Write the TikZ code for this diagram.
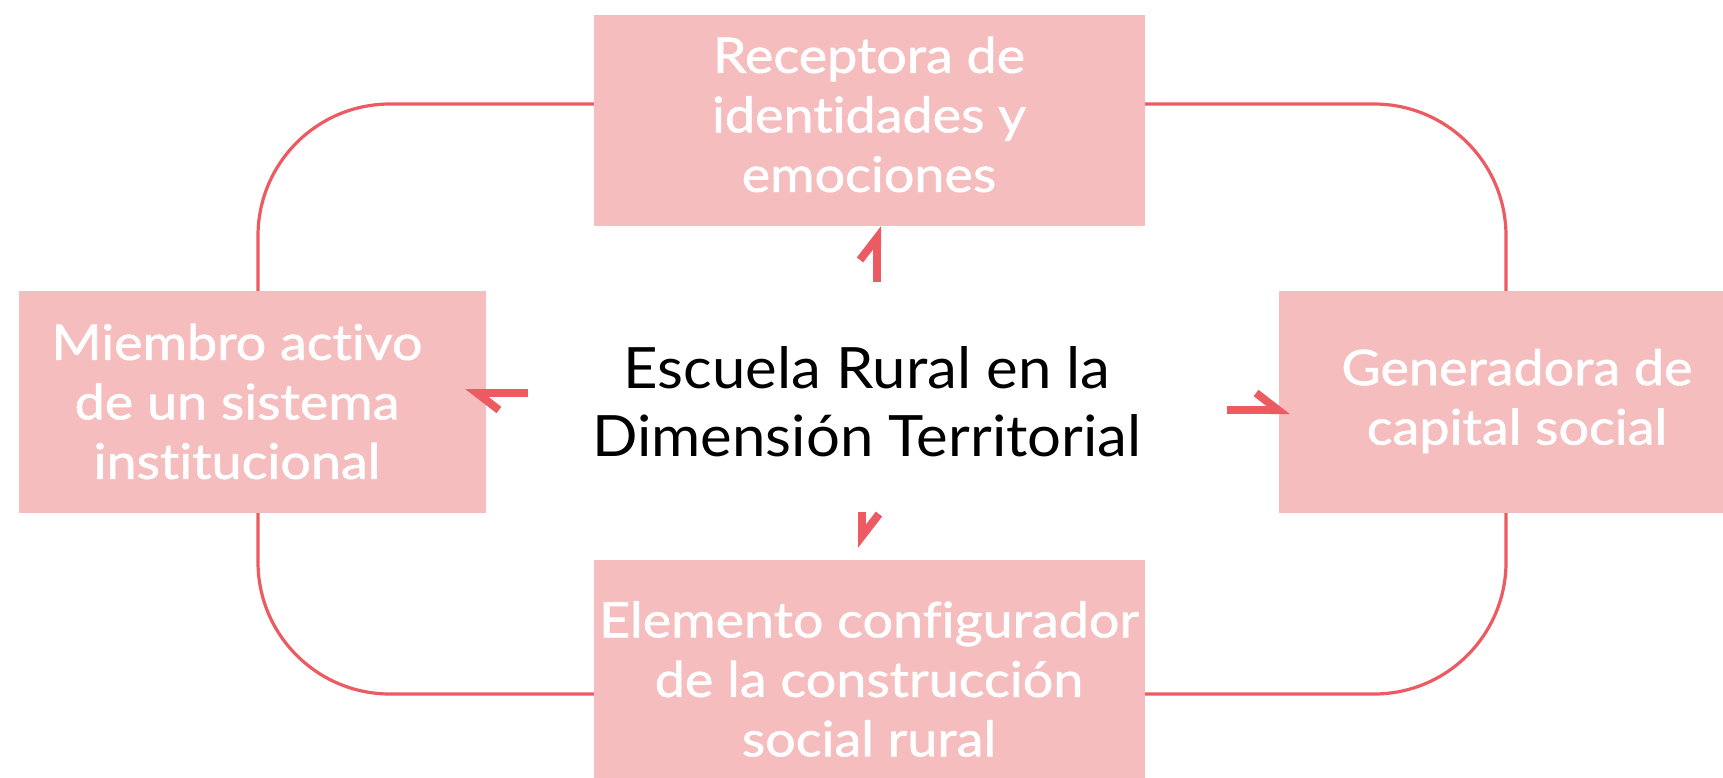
\documentclass[tikz,border=0pt]{standalone}
\usepackage{fontspec}
\setmainfont{Lato}[FakeStretch=1.05,Ligatures=NoCommon]
\newfontfamily\boxfont{Lato}[FakeStretch=1.1,FakeBold=1.2,Ligatures=NoCommon]
\usetikzlibrary{arrows.meta}
\definecolor{boxpink}{HTML}{F6BDBF}
\definecolor{linered}{HTML}{EC5B61}
\tikzset{
  pbox/.style={fill=boxpink, draw=none, inner sep=0pt, minimum width=#1},
  ptext/.style={text=white, align=center, inner sep=0pt,
    font=\boxfont\fontsize{49}{59.5}\selectfont},
  hubtext/.style={text=black, align=center, inner sep=0pt,
    font=\fontsize{57}{68}\selectfont},
  loopline/.style={draw=linered, line width=3.2pt, rounded corners=132pt},
  harp/.style={draw=linered, line width=8pt,
    -{Straight Barb[left, length=22pt, width=34pt]}}
}
\begin{document}
\begin{tikzpicture}[x=1pt,y=-1pt]
\useasboundingbox (0,0) rectangle (1723,777);
\clip (0,0) rectangle (1723,777);
\fill[white] (0,0) rectangle (1723,777);
% loop
\draw[loopline] (258,104) rectangle (1506,694);
% boxes
\node[pbox=551pt, minimum height=211pt] (top) at (869.5,120.5) {};
\node[pbox=467pt, minimum height=222pt] (lbox) at (252.5,402) {};
\node[pbox=476pt, minimum height=222pt] (rbox) at (1517,402) {};
\node[pbox=551pt, minimum height=244pt] (bot) at (869.5,682) {};
% box texts
\node[ptext] (topT) at (869,114.5) {Receptora de\\identidades y\\emociones};
\node[ptext] (lT) at (237,401.5) {Miembro activo\\de un sistema\\institucional};
\node[ptext] (rT) at (1517,401) {Generadora de\\capital social};
\node[ptext] (bT) at (869,679) {Elemento configurador\\de la construcción\\social rural};
% hub
\node[hubtext] (hub) at (867,402) {Escuela Rural en la\\Dimensión Territorial};
\coordinate (hubN) at (877,282);
\coordinate (hubW) at (528,393);
\coordinate (hubE) at (1227,410);
\coordinate (hubS) at (862,512);
% arrows
\draw[harp] (hubN) -- (top.south -| hubN);
\draw[harp] (hubW) -- ([xshift=-21pt]lbox.east |- hubW);
\draw[harp] (hubE) -- ([xshift=11pt]rbox.west |- hubE);
\draw[harp] (hubS) -- ([yshift=12pt]bot.north -| hubS);
\end{tikzpicture}
\end{document}
